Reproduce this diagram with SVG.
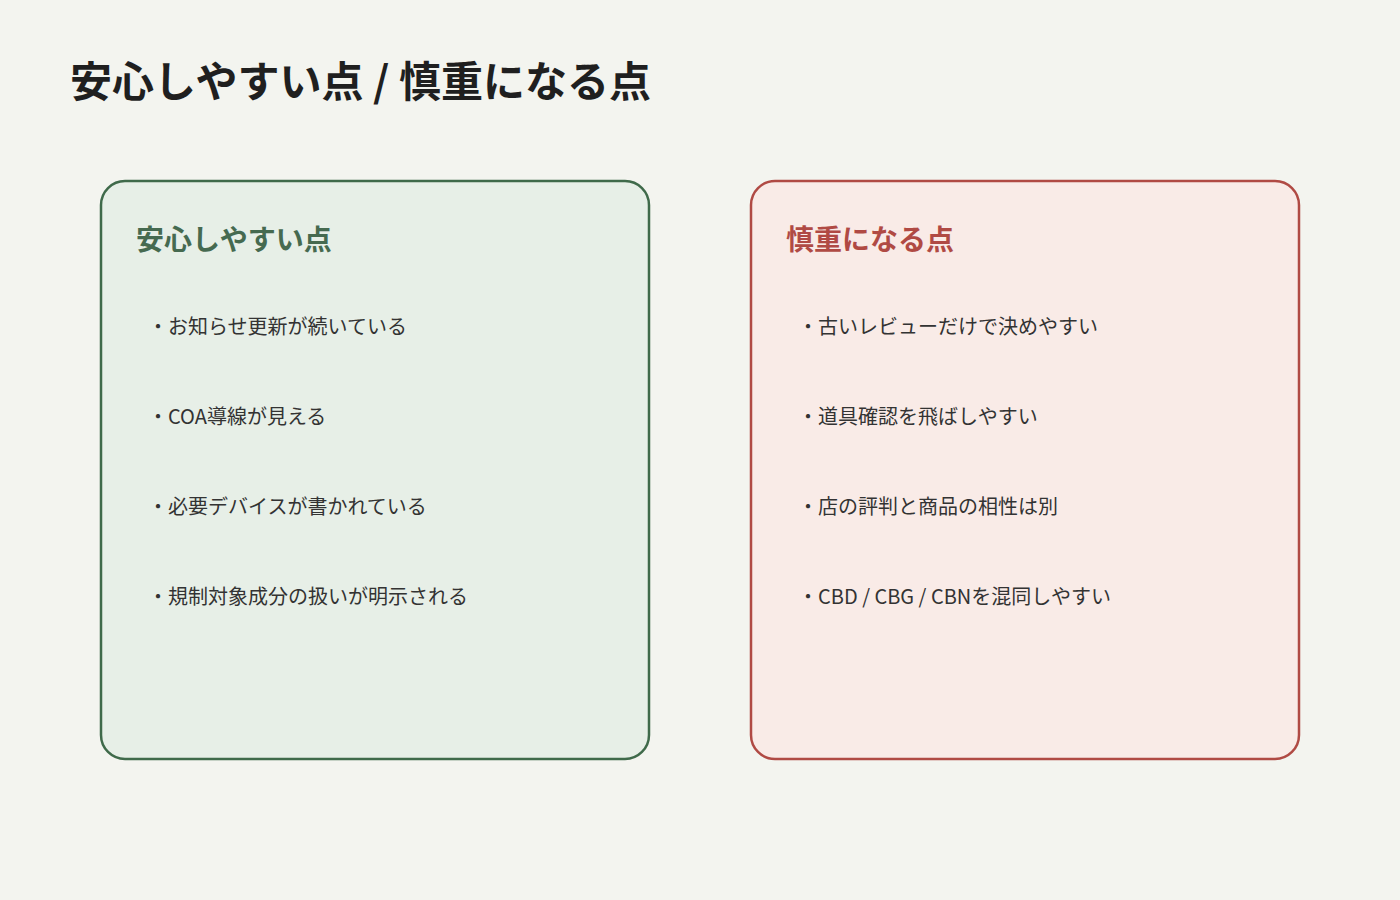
<svg xmlns="http://www.w3.org/2000/svg" width="1400" height="900" viewBox="0 0 1400 900">
<style>
text{font-family:"Noto Sans CJK JP","Noto Sans",sans-serif}
.t{font-size:42px;font-weight:700;fill:#1f1f1f}
.h{font-size:28px;font-weight:700}
.i{font-size:20px;fill:#333}
</style>
<rect width="1400" height="900" fill="#f3f4ef"/>
<text class="t" x="70" y="97">安心しやすい点 / 慎重になる点</text>
<g id="good">
<rect x="101" y="181" width="548" height="578" rx="24" fill="#e7efe7" stroke="#3f6a4a" stroke-width="2.5"/>
<text class="h" x="136" y="250" fill="#466a50">安心しやすい点</text>
<text class="i" x="148" y="334">・お知らせ更新が続いている</text>
<text class="i" x="148" y="424">・COA導線が見える</text>
<text class="i" x="148" y="514">・必要デバイスが書かれている</text>
<text class="i" x="148" y="604">・規制対象成分の扱いが明示される</text>
</g>
<g id="caution">
<rect x="751" y="181" width="548" height="578" rx="24" fill="#f9ebe7" stroke="#b04a44" stroke-width="2.5"/>
<text class="h" x="786" y="250" fill="#b04a44">慎重になる点</text>
<text class="i" x="798" y="334">・古いレビューだけで決めやすい</text>
<text class="i" x="798" y="424">・道具確認を飛ばしやすい</text>
<text class="i" x="798" y="514">・店の評判と商品の相性は別</text>
<text class="i" x="798" y="604">・CBD / CBG / CBNを混同しやすい</text>
</g>
<g id="connectors"/>
</svg>
